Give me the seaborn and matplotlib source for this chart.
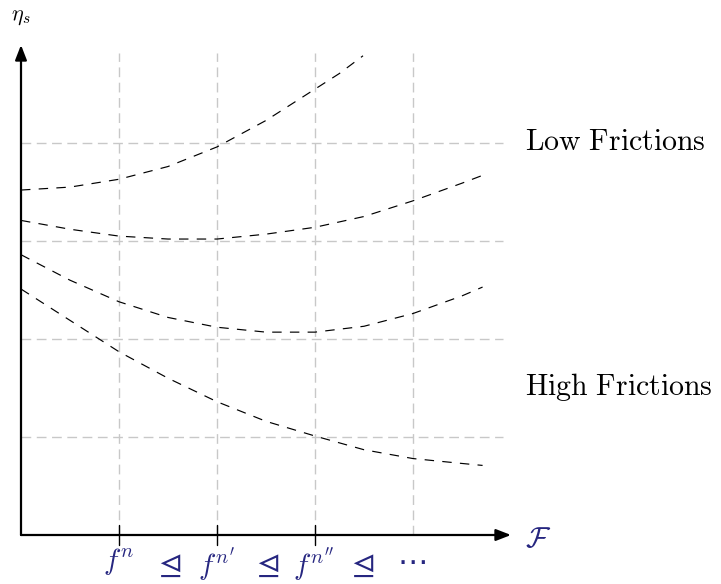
import numpy as np
import pandas as pd
import seaborn as sns
import matplotlib.pyplot as plt

# ---------- data ----------
x_full = [0, 0.5, 1, 1.5, 2, 2.5, 3, 3.5, 4, 4.5, 4.71]
x_top = [0, 0.5, 1, 1.5, 2, 2.5, 3, 3.25, 3.49]

curve_top = [3.52, 3.55, 3.63, 3.76, 3.96, 4.23, 4.55, 4.71, 4.89]
curve_second = [3.21, 3.12, 3.05, 3.02, 3.02, 3.07, 3.14, 3.25, 3.41, 3.59, 3.67]
curve_third = [2.86, 2.60, 2.38, 2.22, 2.12, 2.07, 2.07, 2.13, 2.26, 2.44, 2.53]
curve_bottom = [2.51, 2.19, 1.87, 1.60, 1.36, 1.16, 1.01, 0.87, 0.78, 0.73, 0.71]

grid_values = [1, 2, 3, 4]
tick_values = [1, 2, 3]
f_labels = [r"$f^{n}$", r"$f^{n'}$", r"$f^{n''}$"]
f_x = [1, 2, 2.98]
rel_x = [1.5, 2.5, 3.47]
region_labels = [r"$\mathrm{Low\ Frictions}$", r"$\mathrm{High\ Frictions}$"]
region_y = [4.01, 1.51]

sns.set_style("white")
plt.rcParams["mathtext.fontset"] = "cm"
plt.rcParams["font.family"] = ["DejaVu Serif"]

ink = "#262680"

fig = plt.figure(figsize=(7.21, 5.84), dpi=100)
ax = fig.add_axes([21 / 721, 49 / 584, 490 / 721, 490 / 584])
ax.set_xlim(0, 5)
ax.set_ylim(0, 5)

# ---------- grid ----------
for g in grid_values:
    ax.plot([g, g], [0, 4.92], color="#c8c8c8", lw=1.0, ls=(0, (7, 4)), zorder=1)
    ax.plot([0, 4.92], [g, g], color="#c8c8c8", lw=1.0, ls=(0, (7, 4)), zorder=1)

# ---------- curves ----------
curves = [(x_top, curve_top), (x_full, curve_second),
          (x_full, curve_third), (x_full, curve_bottom)]
for xs, ys in curves:
    df = pd.DataFrame({"F": xs, "eta": ys})
    sns.lineplot(data=df, x="F", y="eta", ax=ax, color="black", lw=0.85,
                 linestyle=(0, (8, 7)), zorder=3)

# ---------- axes with arrows ----------
for s in ax.spines.values():
    s.set_visible(False)
arrow = dict(arrowstyle="-|>,head_length=0.9,head_width=0.35", color="black",
             lw=1.6, shrinkA=0, shrinkB=0)
ax.annotate("", xy=(5.0, 0), xytext=(0, 0), arrowprops=arrow, annotation_clip=False)
ax.annotate("", xy=(0, 5.0), xytext=(0, 0), arrowprops=arrow, annotation_clip=False)

for t in tick_values:
    ax.plot([t, t], [-0.1, 0.1], color="black", lw=1.0, clip_on=False, zorder=4)

ax.set_xticks([])
ax.set_yticks([])
ax.set_xlabel("")
ax.set_ylabel("")

for lx, lab in zip(f_x, f_labels):
    ax.text(lx, -0.11, lab, color=ink, fontsize=21, ha="center", va="top")
for rx in rel_x:
    ax.text(rx, -0.31, r"$\trianglelefteq$", color=ink, fontsize=23,
            ha="center", va="center")
ax.text(4.0, -0.29, "\u22ef", color=ink, fontsize=22, family=["DejaVu Sans"],
        ha="center", va="center")

ax.text(5.14, -0.04, r"$\mathcal{F}$", color=ink, fontsize=21, ha="left", va="center")
ax.text(0, 5.3, r"$\eta_s$", color="black", fontsize=16, ha="center", va="center")

for lab, yv in zip(region_labels, region_y):
    ax.text(5.14, yv, lab, color="black", fontsize=21.5, ha="left", va="center")

fig.savefig("out.png", dpi=100)
